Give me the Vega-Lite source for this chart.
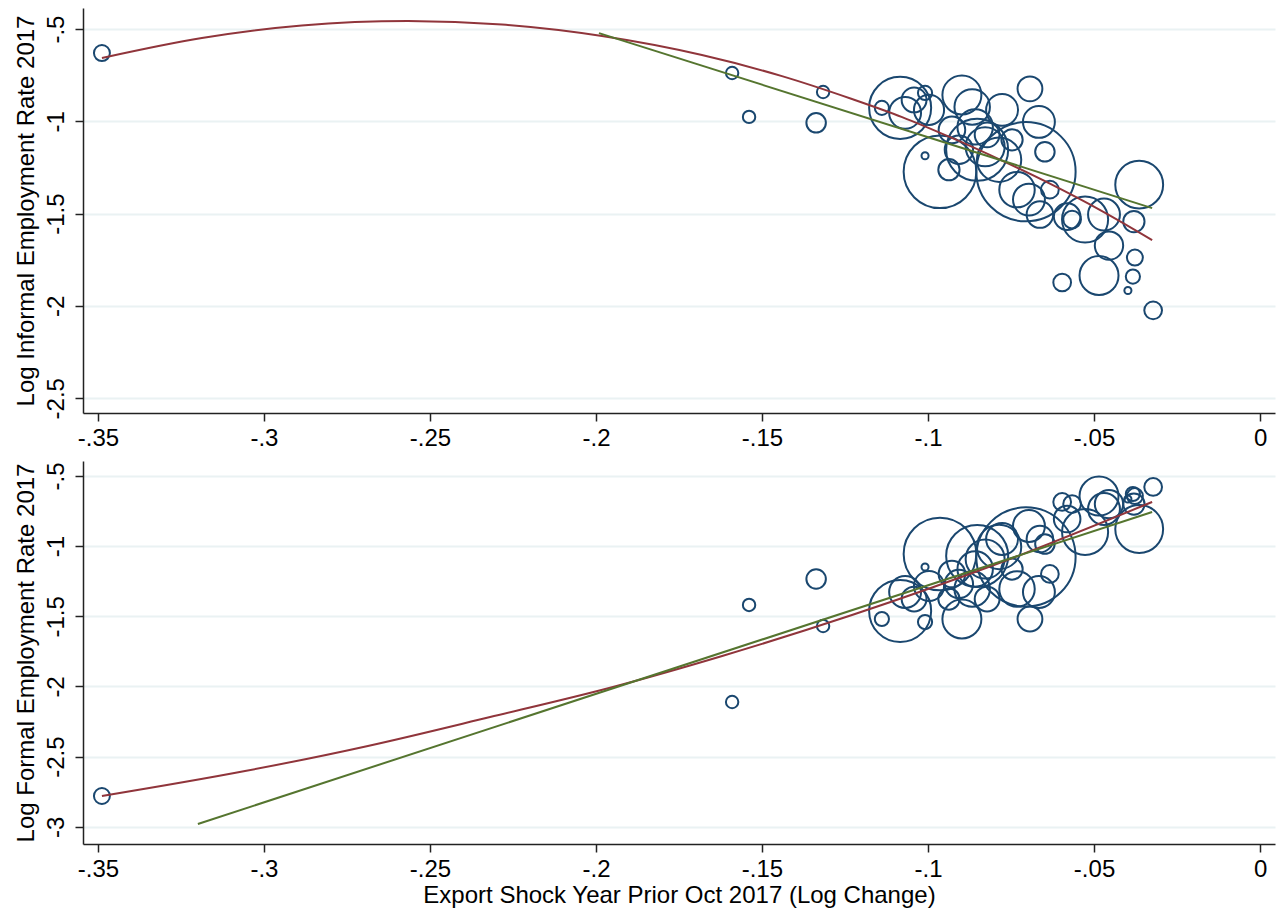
{
  "$schema": "https://vega.github.io/schema/vega-lite/v6.json",
  "background": "white",
  "padding": {"left": 13, "top": 8, "right": 5, "bottom": 5},
  "bounds": "flush",
  "spacing": 48,
  "config": {
    "view": {"stroke": null},
    "font": "Liberation Sans",
    "axis": {
      "labelFont": "Liberation Sans", "titleFont": "Liberation Sans",
      "labelFontSize": 24, "titleFontSize": 24, "titleFontWeight": "normal",
      "labelColor": "#000000", "titleColor": "#000000",
      "domainColor": "#222222", "tickColor": "#222222",
      "tickSize": 8, "domainWidth": 1.5, "tickWidth": 1.5,
      "gridColor": "#eaf2f3", "gridWidth": 2,
      "labelOverlap": false, "labelFlush": false
    }
  },
  "datasets": {
    "points": [
      {"shock": -0.3488, "informal": -0.630, "formal": -2.781, "weight": 81},
      {"shock": -0.1590, "informal": -0.738, "formal": -2.111, "weight": 49},
      {"shock": -0.1539, "informal": -0.976, "formal": -1.419, "weight": 49},
      {"shock": -0.1316, "informal": -0.841, "formal": -1.569, "weight": 49},
      {"shock": -0.1337, "informal": -1.008, "formal": -1.234, "weight": 121},
      {"shock": -0.1139, "informal": -0.927, "formal": -1.519, "weight": 64},
      {"shock": -0.1084, "informal": -0.927, "formal": -1.462, "weight": 1225},
      {"shock": -0.1069, "informal": -0.954, "formal": -1.327, "weight": 324},
      {"shock": -0.1009, "informal": -1.186, "formal": -1.149, "weight": 16},
      {"shock": -0.1009, "informal": -0.846, "formal": -1.541, "weight": 64},
      {"shock": -0.0997, "informal": -0.938, "formal": -1.284, "weight": 289},
      {"shock": -0.0964, "informal": -1.273, "formal": -1.056, "weight": 1681},
      {"shock": -0.0937, "informal": -1.262, "formal": -1.377, "weight": 144},
      {"shock": -0.0928, "informal": -1.046, "formal": -1.198, "weight": 225},
      {"shock": -0.0907, "informal": -1.154, "formal": -1.270, "weight": 256},
      {"shock": -0.0867, "informal": -0.922, "formal": -1.305, "weight": 400},
      {"shock": -0.0858, "informal": -1.030, "formal": -1.163, "weight": 400},
      {"shock": -0.0852, "informal": -1.154, "formal": -1.070, "weight": 1225},
      {"shock": -0.0828, "informal": -1.138, "formal": -1.092, "weight": 484},
      {"shock": -0.0786, "informal": -1.208, "formal": -1.006, "weight": 625},
      {"shock": -0.0777, "informal": -0.938, "formal": -0.949, "weight": 324},
      {"shock": -0.0705, "informal": -1.273, "formal": -1.077, "weight": 3136},
      {"shock": -0.0696, "informal": -1.424, "formal": -0.856, "weight": 324},
      {"shock": -0.0693, "informal": -0.824, "formal": -1.519, "weight": 196},
      {"shock": -0.0666, "informal": -1.003, "formal": -1.327, "weight": 324},
      {"shock": -0.0648, "informal": -1.165, "formal": -0.985, "weight": 121},
      {"shock": -0.0663, "informal": -1.505, "formal": -0.949, "weight": 225},
      {"shock": -0.0596, "informal": -1.873, "formal": -0.685, "weight": 100},
      {"shock": -0.0581, "informal": -1.516, "formal": -0.806, "weight": 225},
      {"shock": -0.0566, "informal": -1.532, "formal": -0.700, "weight": 100},
      {"shock": -0.0527, "informal": -1.532, "formal": -0.899, "weight": 676},
      {"shock": -0.0485, "informal": -1.835, "formal": -0.643, "weight": 484},
      {"shock": -0.0470, "informal": -1.505, "formal": -0.735, "weight": 324},
      {"shock": -0.0455, "informal": -1.673, "formal": -0.700, "weight": 256},
      {"shock": -0.0398, "informal": -1.916, "formal": -0.664, "weight": 16},
      {"shock": -0.0383, "informal": -1.841, "formal": -0.628, "weight": 64},
      {"shock": -0.0377, "informal": -1.738, "formal": -0.643, "weight": 81},
      {"shock": -0.0380, "informal": -1.543, "formal": -0.700, "weight": 144},
      {"shock": -0.0364, "informal": -1.343, "formal": -0.878, "weight": 729},
      {"shock": -0.0322, "informal": -2.024, "formal": -0.578, "weight": 100},
      {"shock": -0.1042, "informal": -0.884, "formal": -1.377, "weight": 196},
      {"shock": -0.0898, "informal": -0.857, "formal": -1.519, "weight": 484},
      {"shock": -0.0822, "informal": -1.073, "formal": -1.377, "weight": 196},
      {"shock": -0.0747, "informal": -1.100, "formal": -1.163, "weight": 144},
      {"shock": -0.0732, "informal": -1.370, "formal": -1.305, "weight": 400},
      {"shock": -0.0633, "informal": -1.370, "formal": -1.198, "weight": 100}
    ],
    "qfit_informal": [
      {"shock": -0.3488, "informal": -0.657},
      {"shock": -0.3187, "informal": -0.549},
      {"shock": -0.2886, "informal": -0.481},
      {"shock": -0.2566, "informal": -0.457},
      {"shock": -0.2283, "informal": -0.476},
      {"shock": -0.1982, "informal": -0.538},
      {"shock": -0.1681, "informal": -0.641},
      {"shock": -0.1440, "informal": -0.755},
      {"shock": -0.1229, "informal": -0.879},
      {"shock": -0.1078, "informal": -0.977},
      {"shock": -0.0928, "informal": -1.090},
      {"shock": -0.0777, "informal": -1.213},
      {"shock": -0.0627, "informal": -1.343},
      {"shock": -0.0476, "informal": -1.486},
      {"shock": -0.0325, "informal": -1.643}
    ],
    "lfit_informal": [
      {"shock": -0.1991, "informal": -0.522},
      {"shock": -0.0325, "informal": -1.470}
    ],
    "qfit_formal": [
      {"shock": -0.3488, "formal": -2.781},
      {"shock": -0.3057, "formal": -2.603},
      {"shock": -0.2687, "formal": -2.424},
      {"shock": -0.2319, "formal": -2.218},
      {"shock": -0.1949, "formal": -2.004},
      {"shock": -0.1620, "formal": -1.783},
      {"shock": -0.1229, "formal": -1.491},
      {"shock": -0.0777, "formal": -1.113},
      {"shock": -0.0325, "formal": -0.685}
    ],
    "lfit_formal": [
      {"shock": -0.3199, "formal": -2.980},
      {"shock": -0.0325, "formal": -0.757}
    ]
  },
  "vconcat": [
    {
      "width": 1192,
      "height": 405,
      "encoding": {
        "x": {
          "field": "shock", "type": "quantitative",
          "scale": {"domain": [-0.3545, 0.0045], "nice": false, "zero": false},
          "axis": {
            "values": [-0.35, -0.3, -0.25, -0.2, -0.15, -0.1, -0.05, 0],
            "labelExpr": "replace(toString(datum.value), '0.', '.')",
            "title": null, "grid": false, "labelPadding": 5
          }
        },
        "y": {
          "field": "informal", "type": "quantitative",
          "scale": {"domain": [-2.580, -0.386], "nice": false, "zero": false},
          "axis": {
            "values": [-0.5, -1, -1.5, -2, -2.5],
            "labelExpr": "replace(toString(datum.value), '0.', '.')",
            "title": "Log Informal Employment Rate 2017",
            "labelAngle": 270, "labelAlign": "center", "labelBaseline": "bottom",
            "labelPadding": 7, "titlePadding": 6, "grid": true
          }
        }
      },
      "layer": [
        {
          "data": {"name": "points"},
          "mark": {"type": "point", "shape": "circle", "filled": false, "color": "#1a476f", "strokeWidth": 2, "opacity": 1},
          "encoding": {
            "size": {"field": "weight", "type": "quantitative", "scale": {"domain": [0, 3136], "range": [0, 9852], "zero": true}, "legend": null}
          }
        },
        {
          "data": {"name": "qfit_informal"},
          "mark": {"type": "line", "color": "#90353b", "strokeWidth": 2, "interpolate": "monotone"},
          "encoding": {}
        },
        {
          "data": {"name": "lfit_informal"},
          "mark": {"type": "line", "color": "#55752f", "strokeWidth": 2},
          "encoding": {}
        }
      ]
    },
    {
      "width": 1192,
      "height": 383,
      "encoding": {
        "x": {
          "field": "shock", "type": "quantitative",
          "scale": {"domain": [-0.3545, 0.0045], "nice": false, "zero": false},
          "axis": {
            "values": [-0.35, -0.3, -0.25, -0.2, -0.15, -0.1, -0.05, 0],
            "labelExpr": "replace(toString(datum.value), '0.', '.')",
            "title": "Export Shock Year Prior Oct 2017 (Log Change)",
            "grid": false, "labelPadding": 5, "titlePadding": 2
          }
        },
        "y": {
          "field": "formal", "type": "quantitative",
          "scale": {"domain": [-3.123, -0.393], "nice": false, "zero": false},
          "axis": {
            "values": [-0.5, -1, -1.5, -2, -2.5, -3],
            "labelExpr": "replace(toString(datum.value), '0.', '.')",
            "title": "Log Formal Employment Rate 2017",
            "labelAngle": 270, "labelAlign": "center", "labelBaseline": "bottom",
            "labelPadding": 7, "titlePadding": 6, "grid": true
          }
        }
      },
      "layer": [
        {
          "data": {"name": "points"},
          "mark": {"type": "point", "shape": "circle", "filled": false, "color": "#1a476f", "strokeWidth": 2, "opacity": 1},
          "encoding": {
            "size": {"field": "weight", "type": "quantitative", "scale": {"domain": [0, 3136], "range": [0, 9852], "zero": true}, "legend": null}
          }
        },
        {
          "data": {"name": "qfit_formal"},
          "mark": {"type": "line", "color": "#90353b", "strokeWidth": 2, "interpolate": "monotone"},
          "encoding": {}
        },
        {
          "data": {"name": "lfit_formal"},
          "mark": {"type": "line", "color": "#55752f", "strokeWidth": 2},
          "encoding": {}
        }
      ]
    }
  ]
}
